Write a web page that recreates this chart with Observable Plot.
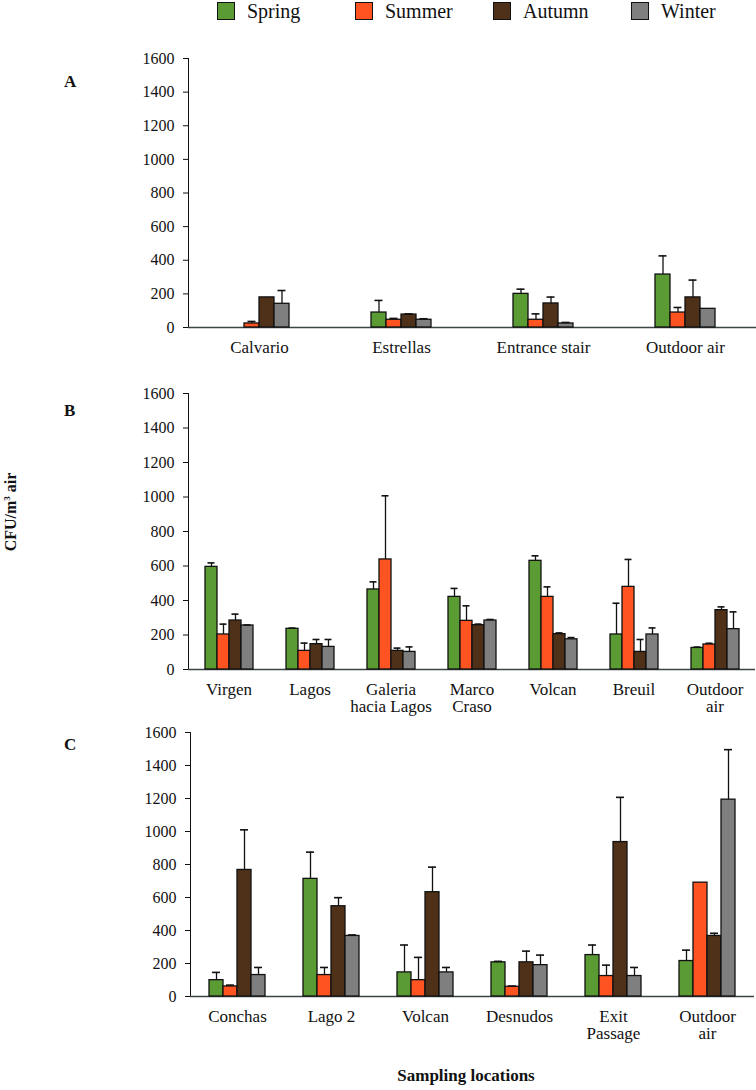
<!DOCTYPE html>
<html><head><meta charset="utf-8">
<script src="https://cdn.jsdelivr.net/npm/d3@7"></script>
<script src="https://cdn.jsdelivr.net/npm/@observablehq/plot@0.6"></script>
<style>
body{margin:0;background:#fff;font-family:"Liberation Serif",serif;color:#111;}
#root{position:relative;width:756px;height:1090px;overflow:hidden;background:#fff;}
#root svg, #root svg text{font-family:"Liberation Serif",serif !important;}
#root svg g[aria-label="y-axis tick label"] text{font-size:16px !important;}
#root svg g[aria-label="fx-axis tick label"] text{font-size:17px !important;}
.abs{position:absolute;}
.legend{position:absolute;left:217px;top:0;display:flex;font-size:20px;}
.legend .item{display:flex;align-items:center;width:138px;height:22px;}
.legend .sw{width:16px;height:16px;border:1.3px solid #111;margin-right:12px;}
.letter{position:absolute;font-weight:bold;font-size:17px;}
.ylab{position:absolute;left:11px;top:512px;transform:translate(-50%,-50%) rotate(-90deg);font-weight:bold;font-size:16px;white-space:nowrap;}
.ylab sup{font-size:9px;}
.xlab{position:absolute;left:466px;top:1066px;transform:translateX(-50%);font-weight:bold;font-size:17px;white-space:nowrap;}
</style></head><body><div id="root"></div>
<script>
const seasons = ["Spring", "Summer", "Autumn", "Winter"];
const seasonColors = ["#5b9b33", "#ff5421", "#4f3119", "#7f7f7f"];
const yTicks = [0, 200, 400, 600, 800, 1000, 1200, 1400, 1600];

// Panel A
const locationsA = ["Calvario", "Estrellas", "Entrance stair", "Outdoor air"];
const springA = [0, 89, 200, 315];
const summerA = [24, 46, 46, 89];
const autumnA = [179, 77, 143, 179];
const winterA = [141, 46, 24, 111];
const springSdA = [0, 72, 28, 111];
const summerSdA = [12, 8, 35, 30];
const autumnSdA = [0, 4, 38, 103];
const winterSdA = [79, 6, 6, 0];

// Panel B
const locationsB = ["Virgen", "Lagos", "Galeria\nhacia Lagos", "Marco\nCraso", "Volcan", "Breuil", "Outdoor\nair"];
const springB = [595, 236, 464, 421, 630, 203, 125];
const summerB = [203, 108, 638, 282, 421, 479, 145];
const autumnB = [284, 147, 108, 257, 205, 102, 344];
const winterB = [255, 131, 102, 284, 175, 203, 234];
const springSdB = [23, 4, 44, 49, 29, 181, 5];
const summerSdB = [60, 45, 369, 87, 58, 159, 7];
const autumnSdB = [37, 27, 16, 6, 7, 72, 19];
const winterSdB = [3, 43, 29, 6, 10, 38, 100];

// Panel C
const locationsC = ["Conchas", "Lago 2", "Volcan", "Desnudos", "Exit\nPassage", "Outdoor\nair"];
const springC = [99, 713, 146, 207, 251, 215];
const summerC = [61, 130, 99, 59, 124, 690];
const autumnC = [767, 547, 632, 207, 936, 367];
const winterC = [130, 367, 146, 190, 124, 1193];
const springSdC = [47, 162, 166, 6, 61, 66];
const summerSdC = [8, 46, 138, 4, 66, 0];
const autumnSdC = [243, 52, 152, 68, 271, 16];
const winterSdC = [46, 6, 30, 61, 52, 303];

const root = document.getElementById("root");
const FONT = '"Liberation Serif", serif';

// legend
const leg = document.createElement("div");
leg.className = "legend";
seasons.forEach((s, i) => {
  const it = document.createElement("div");
  it.className = "item";
  it.innerHTML = `<div class="sw" style="background:${seasonColors[i]}"></div><span>${s}</span>`;
  leg.appendChild(it);
});
root.appendChild(leg);

function panel({locs, vals, sds, top, plotHeight, marginBottom, groupFrac, cap}) {
  const data = [];
  locs.forEach((loc, i) => seasons.forEach((s, j) => data.push({loc, season: s, value: vals[j][i], sd: sds[j][i]})));
  const bars = data.filter(d => d.value > 0);
  const errs = data.filter(d => d.sd > 0);
  const n = seasons.length;
  const q = (n / groupFrac - n) / 2;
  const marginTop = 18;
  const chart = Plot.plot({
    width: 756,
    height: marginTop + plotHeight + marginBottom,
    marginLeft: 187, marginRight: 0, marginTop, marginBottom,
    style: {fontFamily: FONT, fontSize: "16px", color: "#111", background: "transparent", overflow: "visible"},
    fx: {domain: locs, padding: 0, label: null, axis: "bottom", tickSize: 0, tickPadding: 13},
    x: {domain: seasons, paddingInner: 0, paddingOuter: q, axis: null},
    y: {domain: [0, 1600], ticks: yTicks, tickSize: 5, tickPadding: 9, label: null, line: true, tickFormat: d => String(d)},
    color: {domain: seasons, range: seasonColors},
    marks: [
      Plot.ruleY([0], {stroke: "#3a4646", strokeWidth: 1.3}),
      Plot.ruleX(errs, {fx: "loc", x: "season", y1: "value", y2: d => d.value + d.sd, stroke: "#111", strokeWidth: 1.3}),
      Plot.barY(bars, {fx: "loc", x: "season", y: "value", fill: "season", stroke: "#111", strokeWidth: 1.3}),
      Plot.tickY(errs, {fx: "loc", x: "season", y: d => d.value + d.sd, insetLeft: cap, insetRight: cap, stroke: "#111", strokeWidth: 1.6})
    ]
  });
  chart.querySelectorAll("text").forEach(t => {
    t.setAttribute("font-family", FONT);
    t.style.fontFamily = FONT;
  });
  const wrap = document.createElement("div");
  wrap.className = "abs";
  wrap.style.left = "0px";
  wrap.style.top = (top - marginTop) + "px";
  wrap.appendChild(chart);
  root.appendChild(wrap);
}

panel({locs: locationsA, vals: [springA, summerA, autumnA, winterA], sds: [springSdA, summerSdA, autumnSdA, winterSdA],
  top: 58, plotHeight: 269, marginBottom: 40, groupFrac: 0.45, cap: 3.5});
panel({locs: locationsB, vals: [springB, summerB, autumnB, winterB], sds: [springSdB, summerSdB, autumnSdB, winterSdB],
  top: 393, plotHeight: 276, marginBottom: 60, groupFrac: 0.62, cap: 2.5});
panel({locs: locationsC, vals: [springC, summerC, autumnC, winterC], sds: [springSdC, summerSdC, autumnSdC, winterSdC],
  top: 732, plotHeight: 264, marginBottom: 60, groupFrac: 0.635, cap: 3});

[["A", 82], ["B", 411], ["C", 745]].forEach(([t, y]) => {
  const d = document.createElement("div");
  d.className = "letter";
  d.textContent = t;
  d.style.left = "64px";
  d.style.top = (y - 10) + "px";
  root.appendChild(d);
});

const yl = document.createElement("div");
yl.className = "ylab";
yl.innerHTML = "CFU/m<sup>3</sup> air";
root.appendChild(yl);

const xl = document.createElement("div");
xl.className = "xlab";
xl.textContent = "Sampling locations";
root.appendChild(xl);
</script>
</body></html>
